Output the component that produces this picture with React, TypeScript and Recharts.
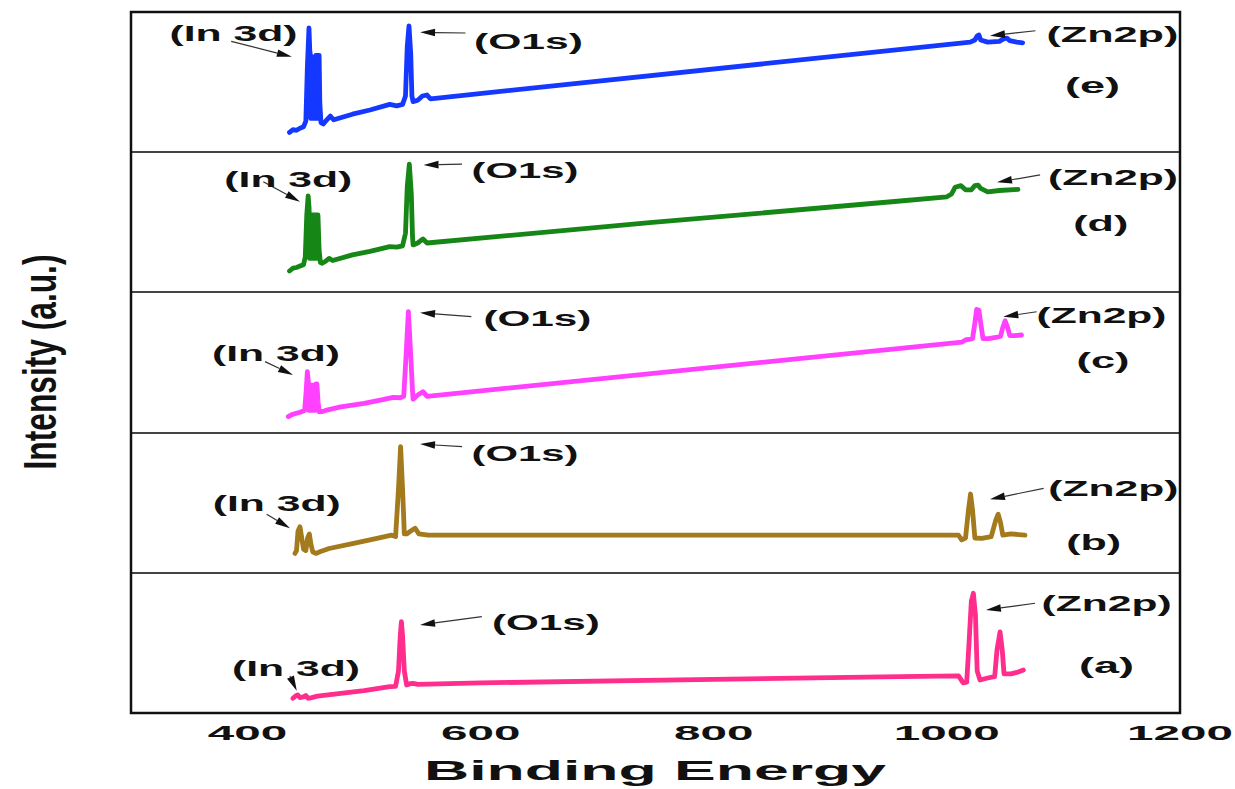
import React from 'react'
import { LineChart, Line, XAxis, YAxis, ReferenceDot, ReferenceLine } from 'recharts'

const FONT = '"Liberation Sans", Arial, Helvetica, sans-serif'

type Pt = [number, number]

// [binding energy (eV), intensity in % of the panel height]
const spectrumE: Pt[] = [
  [436, 14], [439, 16], [442, 15.5], [445, 17], [448, 18], [450, 22], [451.3, 60], [452.7, 88.6], [453.4, 72],
  [453.8, 70], [454.2, 24], [454.6, 68], [455, 24], [455.4, 68], [455.8, 24], [456.2, 68], [456.6, 24], [457, 68],
  [457.4, 24], [457.8, 68], [458.2, 24], [458.6, 69], [459, 24], [459.4, 69], [459.8, 24], [460.2, 69], [460.6, 24],
  [461, 69], [461.4, 69], [462, 35], [463, 21], [465, 20], [468, 23], [471, 25.7], [474, 23], [490, 27], [505, 30],
  [522, 34], [528, 33], [533, 34], [535.5, 40], [537, 75], [538.5, 90], [540, 70], [541, 40], [542, 36], [546, 37],
  [550, 40], [554, 40.7], [557, 38], [1014, 78], [1020, 78.5], [1024, 80], [1026, 83], [1027.5, 83.6], [1029, 80],
  [1035, 78.5], [1045, 79], [1049, 81], [1051.5, 81.4], [1054, 79.5], [1060, 78.5], [1065, 78],
]

const spectrumD: Pt[] = [
  [436, 15], [439, 17], [442, 17.5], [445, 18.5], [448, 19.5], [449.5, 25], [450.8, 55], [452, 68.6], [452.8, 60],
  [453.2, 24], [453.6, 55], [454, 24], [454.4, 55], [454.8, 24], [455.2, 55], [455.6, 24], [456, 55], [456.4, 24],
  [456.8, 55], [457.2, 24], [457.6, 55], [458, 24], [458.4, 55], [458.8, 24], [459.2, 55], [459.6, 24], [460, 55],
  [460.4, 55], [461.4, 30], [462.5, 21], [464, 20.5], [467, 22], [470, 24], [473, 22.5], [490, 26.5], [505, 29],
  [522, 32.4], [528, 32], [533, 33], [535.5, 42], [537, 75], [538.8, 91.4], [540.5, 70], [541.5, 40], [542, 33.6],
  [546, 35], [550.5, 37.9], [554, 35], [745, 49.5], [960, 65], [1000, 68], [1004, 70], [1007, 74.8], [1012, 76],
  [1016, 73], [1021, 73], [1024, 76], [1026.7, 76.4], [1029, 74], [1035, 71.5], [1045, 72.5], [1061, 73.3],
]

const spectrumC: Pt[] = [
  [435, 11.6], [438, 13], [442, 14], [446, 15], [449, 16], [450.3, 30], [451.3, 43.5], [452.3, 35], [452.7, 16],
  [453.1, 34], [453.5, 16], [453.9, 34], [454.3, 16], [454.7, 34], [455.1, 16], [455.5, 34], [455.9, 16], [456.3, 34],
  [456.7, 16], [457.1, 34], [457.5, 16], [457.9, 34], [458.3, 16], [458.7, 34.8], [459.5, 34.8], [460.5, 22],
  [461.5, 15], [463.6, 15.1], [467, 16], [480, 18.5], [500, 21], [515, 23.5], [525, 25.3], [531, 25], [534, 26],
  [536, 55], [538, 86], [540, 55], [541.5, 30], [542, 24], [546, 27], [550.5, 29.3], [554, 26], [1013, 64.5],
  [1016, 66], [1022, 67], [1024, 78], [1025.5, 87.7], [1027.5, 87], [1029, 78], [1031, 67], [1036, 67], [1043, 68],
  [1046, 68.5], [1048, 75], [1050, 79.6], [1052, 75], [1054, 69], [1058, 69], [1064, 69.5],
]

const spectrumB: Pt[] = [
  [440.7, 14], [442, 16], [443.3, 30], [445, 33], [446.5, 25], [448, 17], [450, 16], [451.5, 25], [453, 27.9],
  [454.5, 20], [456, 15], [459, 14], [462, 15.2], [470, 17.5], [490, 21], [510, 24.5], [523.6, 27], [527, 26],
  [529.5, 60], [531.3, 90.2], [533, 60], [534.5, 28], [536.5, 27.9], [540, 30], [543.7, 32], [547, 28], [555, 27],
  [800, 27], [1010, 27], [1012.7, 23.6], [1016, 25], [1018.5, 45], [1020.3, 56.4], [1022, 45], [1024, 25],
  [1030, 24.8], [1038, 26], [1042, 38], [1044, 42], [1046, 36], [1048, 27], [1055, 28], [1067, 27],
]

const spectrumA: Pt[] = [
  [439, 10.5], [441, 12], [443, 12.9], [445, 11], [448, 11.5], [450, 12.5], [452, 10.5], [455, 11], [460, 12],
  [480, 14], [500, 16], [522, 18.8], [527, 19], [529.5, 30], [531, 55], [532, 65.2], [533, 55], [534.5, 30],
  [536.5, 20], [540, 21], [542, 21.2], [546, 20.5], [600, 21.5], [800, 24], [960, 26], [1010, 26.5], [1014, 21.5],
  [1017, 22], [1019, 50], [1021, 80], [1022.7, 85.5], [1024.5, 70], [1026, 30], [1028.4, 23.6], [1035, 25],
  [1041, 26], [1043, 45], [1045.6, 58], [1047.5, 45], [1049, 28], [1055, 28], [1060, 29], [1065.6, 30.7],
]

const xTicks = [400, 600, 800, 1000, 1200]

type Note = { text: string; at: Pt; w: number }
type Arrow = [Pt, Pt]

const panels = [
  {
    id: 'e', color: '#1438ff', points: spectrumE,
    notes: [
      { text: '(In 3d)', at: [388, 85], w: 128 }, { text: '(O1s)', at: [641, 79.5], w: 109 },
      { text: '(Zn2p)', at: [1142, 84], w: 132 }, { text: '(e)', at: [1125, 48], w: 55 },
    ] as Note[],
    arrows: [[[386, 79], [438, 68]], [[587, 85], [548, 85.5]], [[1076, 86.6], [1037, 83]]] as Arrow[],
  },
  {
    id: 'd', color: '#168616', points: spectrumD,
    notes: [
      { text: '(In 3d)', at: [435, 81], w: 128 }, { text: '(O1s)', at: [638, 87], w: 107 },
      { text: '(Zn2p)', at: [1142.5, 82.4], w: 130 }, { text: '(d)', at: [1132, 49], w: 55 },
    ] as Note[],
    arrows: [[[413.5, 78.8], [445, 64.5]], [[584, 91.4], [551, 90.7]], [[1080, 83.6], [1043, 78.4]]] as Arrow[],
  },
  {
    id: 'c', color: '#ff40ff', points: spectrumC,
    notes: [
      { text: '(In 3d)', at: [424.4, 56.5], w: 128 }, { text: '(O1s)', at: [648.7, 81.3], w: 108 },
      { text: '(Zn2p)', at: [1132.7, 83.7], w: 130 }, { text: '(c)', at: [1134, 51.8], w: 53 },
    ] as Note[],
    arrows: [[[415, 50.6], [439, 41.1]], [[592, 82.5], [548, 85.3]], [[1077, 86], [1048.4, 82.5]]] as Arrow[],
  },
  {
    id: 'b', color: '#a37a1c', points: spectrumB,
    notes: [
      { text: '(In 3d)', at: [425, 50.2], w: 128 }, { text: '(O1s)', at: [638, 85.5], w: 107 },
      { text: '(Zn2p)', at: [1142.8, 60.5], w: 130 }, { text: '(b)', at: [1126, 22.4], w: 55 },
    ] as Note[],
    arrows: [[[416.4, 42], [436.4, 32]], [[584, 90.2], [548, 92.1]], [[1083, 60.5], [1037, 52.6]]] as Arrow[],
  },
  {
    id: 'a', color: '#ff2d8c', points: spectrumA,
    notes: [
      { text: '(In 3d)', at: [441.6, 31.9], w: 128 }, { text: '(O1s)', at: [656, 65.2], w: 108 },
      { text: '(Zn2p)', at: [1137, 78.4], w: 130 }, { text: '(a)', at: [1137, 34.3], w: 55 },
    ] as Note[],
    arrows: [[[436.4, 26.4], [442.2, 15.9]], [[601, 68.8], [548, 62.9]], [[1075.6, 78.4], [1033.5, 73.6]]] as Arrow[],
  },
]

const FRAME = { left: 131, top: 12, width: 1049, height: 701 }
const PANEL_TOPS = [12, 152, 292, 433, 573]
const PANEL_H = [140, 140, 141, 140, 140]

const ArrowShape = (p: any) => {
  const { x1, y1, x2, y2 } = p
  const ang = Math.atan2(y2 - y1, x2 - x1)
  const L = 15
  const W = 3.8
  const bx = x2 - L * Math.cos(ang)
  const by = y2 - L * Math.sin(ang)
  const nx = -Math.sin(ang) * W
  const ny = Math.cos(ang) * W
  return (
    <g>
      <line x1={x1} y1={y1} x2={bx} y2={by} stroke="#333" strokeWidth={1.2} />
      <polygon points={`${x2},${y2} ${bx + nx},${by + ny} ${bx - nx},${by - ny}`} fill="#111" />
    </g>
  )
}

const noteShape = (n: Note) => (p: any) => (
  <text
    x={p.cx}
    y={p.cy}
    dy="0.36em"
    textAnchor="middle"
    fontFamily={FONT}
    fontWeight={700}
    fontSize={22}
    fill="#111"
    textLength={n.w}
    lengthAdjust="spacingAndGlyphs"
  >
    {n.text}
  </text>
)

const XTick = (p: any) => {
  const label = String(p.payload.value)
  return (
    <text
      x={p.x}
      y={p.y + 27}
      textAnchor="middle"
      fontFamily={FONT}
      fontWeight={700}
      fontSize={21}
      fill="#111"
      textLength={label.length * 26.5}
      lengthAdjust="spacingAndGlyphs"
    >
      {label}
    </text>
  )
}

function Panel({ index }: { index: number }) {
  const p = panels[index]
  const bottom = index === panels.length - 1
  const data = p.points.map(([be, v]) => ({ be, v }))
  return (
    <div style={{ position: 'absolute', left: 0, top: PANEL_TOPS[index] }}>
      <LineChart
        width={1235}
        height={PANEL_H[index] + (bottom ? 40 : 0)}
        data={data}
        margin={{ top: 0, right: 55, bottom: 0, left: 131 }}
      >
        <XAxis
          type="number"
          dataKey="be"
          domain={[300, 1200]}
          ticks={xTicks}
          interval={0}
          hide={!bottom}
          height={40}
          axisLine={false}
          tickLine={false}
          tickSize={0}
          tickMargin={0}
          tick={XTick}
          allowDataOverflow
        />
        <YAxis type="number" domain={[0, 100]} hide />
        <Line
          type="linear"
          dataKey="v"
          stroke={p.color}
          strokeWidth={4.8}
          strokeLinejoin="round"
          strokeLinecap="round"
          dot={false}
          isAnimationActive={false}
        />
        {p.arrows.map((a, i) => (
          <ReferenceLine
            key={`ar-${i}`}
            segment={[{ x: a[0][0], y: a[0][1] }, { x: a[1][0], y: a[1][1] }]}
            shape={ArrowShape}
            ifOverflow="visible"
          />
        ))}
        {p.notes.map((n, i) => (
          <ReferenceDot
            key={`nt-${i}`}
            x={n.at[0]}
            y={n.at[1]}
            r={0}
            shape={noteShape(n)}
            ifOverflow="visible"
          />
        ))}
      </LineChart>
    </div>
  )
}

export default function App() {
  return (
    <div style={{ position: 'absolute', left: 0, top: 0, width: 1235, height: 789, background: '#fff', overflow: 'hidden' }}>
      {panels.map((_, i) => (
        <Panel key={i} index={i} />
      ))}
      <svg width={1235} height={789} style={{ position: 'absolute', left: 0, top: 0, pointerEvents: 'none' }}>
        {PANEL_TOPS.slice(1).map((y) => (
          <line key={y} x1={FRAME.left} x2={FRAME.left + FRAME.width} y1={y} y2={y} stroke="#444" strokeWidth={2} />
        ))}
        <rect
          x={FRAME.left}
          y={FRAME.top}
          width={FRAME.width}
          height={FRAME.height}
          fill="none"
          stroke="#111"
          strokeWidth={2.5}
        />
        <text
          x={655}
          y={780}
          textAnchor="middle"
          fontFamily={FONT}
          fontWeight={700}
          fontSize={28}
          fill="#111"
          textLength={462}
          lengthAdjust="spacingAndGlyphs"
        >
          Binding Energy
        </text>
        <text
          x={0}
          y={0}
          transform="translate(40 362) rotate(-90)"
          textAnchor="middle"
          dy="0.35em"
          fontFamily={FONT}
          fontWeight={700}
          fontSize={46}
          fill="#111"
          textLength={215}
          lengthAdjust="spacingAndGlyphs"
        >
          Intensity (a.u.)
        </text>
      </svg>
    </div>
  )
}
